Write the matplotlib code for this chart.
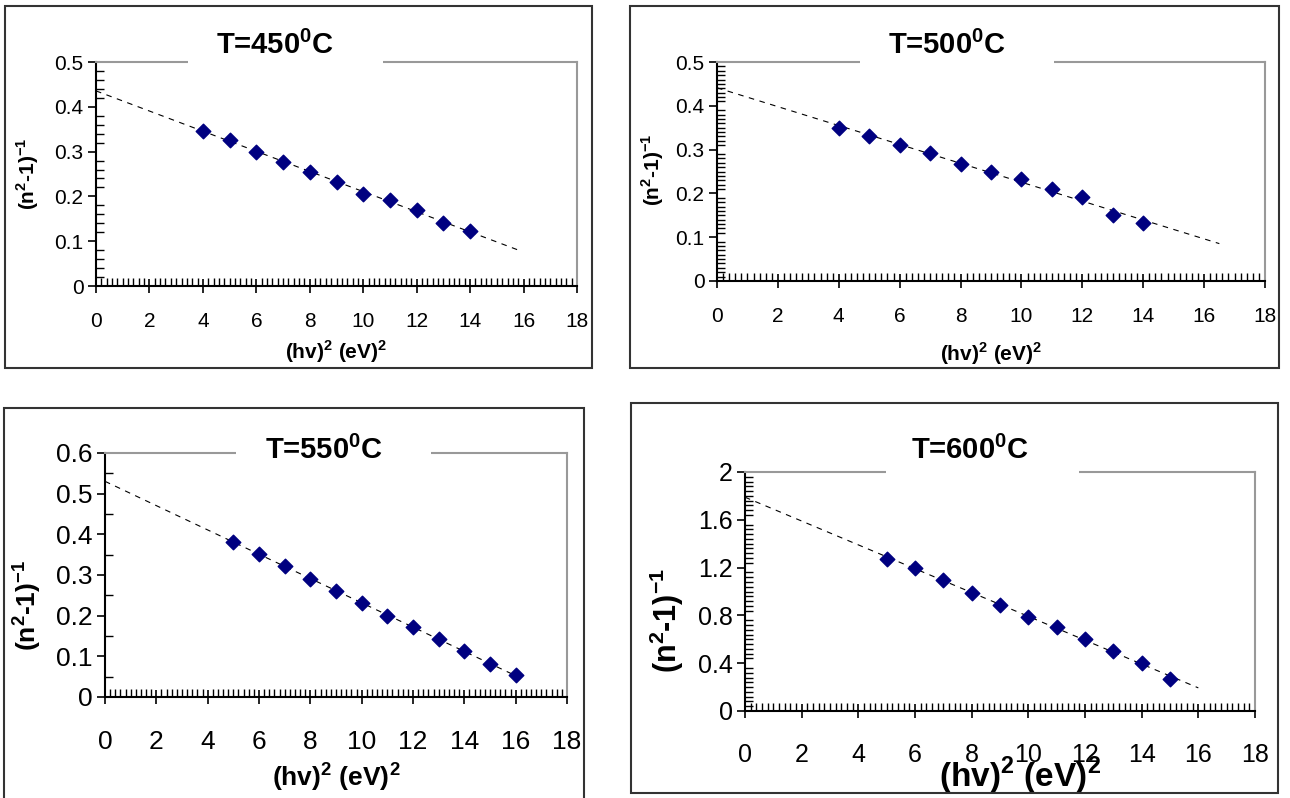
import numpy as np
import matplotlib
matplotlib.use("Agg")
import matplotlib.pyplot as plt
from matplotlib.patches import Rectangle
from matplotlib.ticker import MultipleLocator, FormatStrFormatter

plt.rcParams['font.family'] = ['Liberation Sans', 'DejaVu Sans']
plt.rcParams['mathtext.fontset'] = 'custom'
plt.rcParams['mathtext.rm'] = 'Liberation Sans'
plt.rcParams['mathtext.bf'] = 'Liberation Sans:bold'

# data
titles = ["T=450$^\\mathbf{0}$C", "T=500$^\\mathbf{0}$C", "T=550$^\\mathbf{0}$C", "T=600$^\\mathbf{0}$C"]
x450 = [4, 5, 6, 7, 8, 9, 10, 11, 12, 13, 14]
y450 = [0.345, 0.327, 0.300, 0.277, 0.255, 0.232, 0.205, 0.192, 0.170, 0.140, 0.122]
x500 = [4, 5, 6, 7, 8, 9, 10, 11, 12, 13, 14]
y500 = [0.350, 0.332, 0.310, 0.292, 0.268, 0.250, 0.232, 0.210, 0.192, 0.150, 0.132]
x550 = [5, 6, 7, 8, 9, 10, 11, 12, 13, 14, 15, 16]
y550 = [0.382, 0.352, 0.323, 0.290, 0.260, 0.230, 0.200, 0.172, 0.143, 0.113, 0.080, 0.055]
x600 = [5, 6, 7, 8, 9, 10, 11, 12, 13, 14, 15]
y600 = [1.27, 1.20, 1.10, 0.99, 0.89, 0.79, 0.70, 0.60, 0.50, 0.40, 0.27]
fit_end = [15.8, 16.5, 16.0, 16.0]

W, H = 1290, 798
fig = plt.figure(figsize=(W / 100, H / 100), dpi=100)

def fx(px):
    return px / W

def fy(py):
    return 1 - py / H

# frames (pixels: x0, y0, x1, y1)
frames = [(5, 6, 592, 368), (630, 6, 1279, 368), (4, 408, 584, 800), (631, 403, 1278, 793)]
for x0, y0, x1, y1 in frames:
    fig.add_artist(Rectangle((fx(x0), fy(y1)), fx(x1 - x0), (y1 - y0) / H,
                             transform=fig.transFigure, fill=False,
                             edgecolor='#333333', lw=1.5))

# axes boxes (pixels: left, top, right, bottom)
boxes = [(96, 62, 577, 286), (717, 62, 1265, 281), (105, 453, 567, 697), (745, 472, 1255, 711)]
ylims = [(0, 0.5), (0, 0.5), (0, 0.6), (0, 2)]
ymajor = [0.1, 0.1, 0.1, 0.4]
yminor = [0.02, 0.01, 0.05, 0.04]
tick_fs = [15, 15, 19, 18]
xpad = [14, 14, 19, 18]
ylab_fs = [15, 15, 19, 22]
xlab_fs = [15, 15, 19, 24]
xlab_pos = [(0.5, -0.232), (0.5, -0.269), (0.5, -0.258), (0.54, -0.184)]
ylab_pos = [(-0.114, 0.5), (-0.093, 0.507), (-0.134, 0.377), (-0.116, 0.38)]
title_x = [275, 947, 324, 970]
title_y = [45, 45, 450, 450]
gap = [(188, 383), (860, 1054), (236, 431), (886, 1079)]
xs = [x450, x500, x550, x600]
ys = [y450, y500, y550, y600]

for i in range(4):
    l, t, r, b = boxes[i]
    ax = fig.add_axes([fx(l), fy(b), fx(r - l), (b - t) / H])
    x = np.array(xs[i])
    y = np.array(ys[i])
    k, c = np.polyfit(x, y, 1)
    xf = np.array([0, fit_end[i]])
    ax.plot(xf, k * xf + c, color='black', lw=0.8, ls=(0, (5, 5)), zorder=2)
    ax.scatter(x, y, marker='D', s=55, color='#000080', zorder=3, clip_on=False)
    ax.set_xlim(0, 18)
    ax.set_ylim(*ylims[i])
    ax.xaxis.set_major_locator(MultipleLocator(2))
    ax.xaxis.set_minor_locator(MultipleLocator(0.2))
    ax.yaxis.set_major_locator(MultipleLocator(ymajor[i]))
    ax.yaxis.set_minor_locator(MultipleLocator(yminor[i]))
    ax.yaxis.set_major_formatter(FormatStrFormatter('%g'))
    ax.tick_params(axis='x', which='major', direction='inout', length=10, width=1.2,
                   labelsize=tick_fs[i], pad=xpad[i])
    ax.tick_params(axis='x', which='minor', direction='in', length=6, width=1)
    ax.tick_params(axis='y', which='major', direction='out', length=6, width=1.2,
                   labelsize=tick_fs[i], pad=3)
    ax.tick_params(axis='y', which='minor', direction='in', length=6, width=1)
    for s in ['top', 'right']:
        ax.spines[s].set_color('#999999')
        ax.spines[s].set_linewidth(1.5)
    for s in ['left', 'bottom']:
        ax.spines[s].set_linewidth(1.5)
    ax.set_xlabel("(hv)$^\\mathbf{2}$ (eV)$^\\mathbf{2}$", fontweight='bold',
                  fontsize=xlab_fs[i])
    ax.xaxis.set_label_coords(*xlab_pos[i])
    ax.set_ylabel("(n$^\\mathbf{2}$-1)$^\\mathbf{-1}$", fontweight='bold',
                  fontsize=ylab_fs[i])
    ax.yaxis.set_label_coords(*ylab_pos[i])
    # white gap in the top line behind the title
    g0, g1 = gap[i]
    fig.add_artist(Rectangle((fx(g0), fy(t) - 0.006), fx(g1 - g0), 0.012,
                             transform=fig.transFigure, facecolor='white',
                             edgecolor='none', zorder=4))
    fig.text(fx(title_x[i]), fy(title_y[i]), titles[i], ha='center', va='center',
             fontsize=21, fontweight='bold', zorder=5)

fig.savefig("out.png", dpi=100)
